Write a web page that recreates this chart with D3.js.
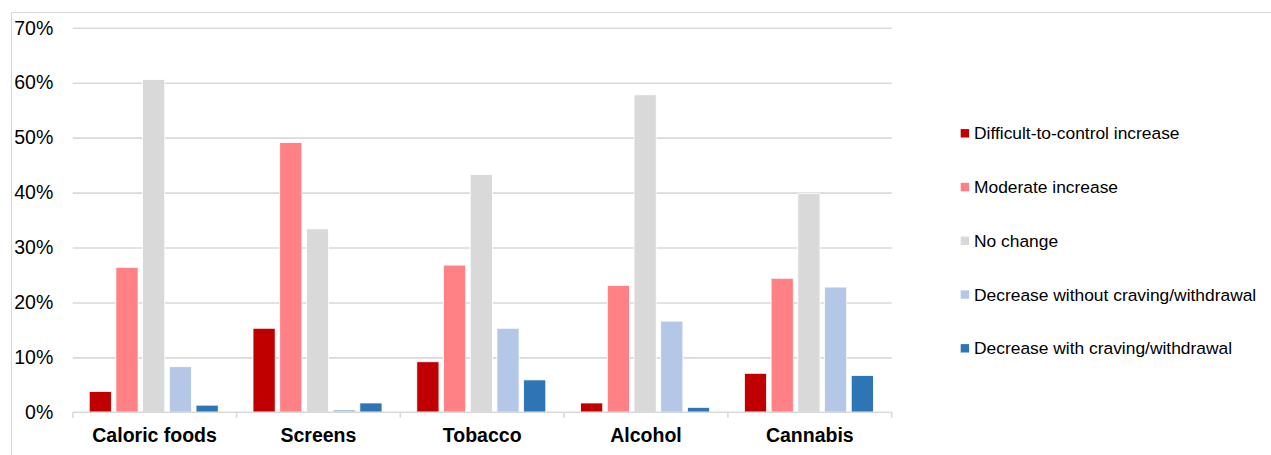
<!DOCTYPE html>
<html>
<head>
<meta charset="utf-8">
<script src="https://cdn.jsdelivr.net/npm/d3@7"></script>
<style>
  html, body { margin: 0; padding: 0; background: #fff; }
  svg { display: block; font-family: "Liberation Sans", Arial, Helvetica, sans-serif; }
</style>
</head>
<body>
<svg id="chart" width="1271" height="455"></svg>
<script>
// Categories along the x axis
const categories = ["Caloric foods", "Screens", "Tobacco", "Alcohol", "Cannabis"];

// Series names (legend order)
const seriesNames = [
  "Difficult-to-control increase",
  "Moderate increase",
  "No change",
  "Decrease without craving/withdrawal",
  "Decrease with craving/withdrawal"
];

// Percentages per series, one value per category
const difficultIncrease = [3.8, 15.3, 9.2, 1.7, 7.1];
const moderateIncrease  = [26.4, 49.1, 26.8, 23.1, 24.4];
const noChange          = [60.6, 33.4, 43.3, 57.8, 39.8];
const decreaseNoCraving = [8.3, 0.5, 15.3, 16.6, 22.8];
const decreaseCraving   = [1.3, 1.7, 5.9, 0.9, 6.7];

// Y axis ticks
const yTicks = [0, 10, 20, 30, 40, 50, 60, 70];

const seriesValues = [difficultIncrease, moderateIncrease, noChange, decreaseNoCraving, decreaseCraving];
const colors = ["#C00000", "#FF8085", "#D9D9D9", "#B4C7E7", "#2E75B6"];

const svg = d3.select("#chart");

// Frame around the chart area (runs off the right and bottom edges)
svg.append("path")
  .attr("d", "M11.5,460V12.5H1271")
  .attr("fill", "none")
  .attr("stroke", "#D9D9D9")
  .attr("stroke-width", 1.2);

const plot = { left: 72.7, right: 891.7, top: 27.8, bottom: 412.3 };

const x0 = d3.scaleBand()
  .domain(categories)
  .range([plot.left, plot.right])
  .padding(0);

const x1 = d3.scaleBand()
  .domain(d3.range(seriesNames.length))
  .range([16.5, 145.5])
  .paddingInner(0.17);

const y = d3.scaleLinear()
  .domain([0, 70])
  .range([plot.bottom, plot.top]);

// Horizontal gridlines with percentage labels
const yAxis = svg.append("g")
  .attr("transform", `translate(${plot.left},0)`)
  .call(d3.axisLeft(y)
    .tickValues(yTicks)
    .tickSizeInner(-(plot.right - plot.left))
    .tickSizeOuter(0)
    .tickPadding(19.4)
    .tickFormat(d => d + "%"));
yAxis.selectAll(".domain").remove();
yAxis.selectAll(".tick line")
  .attr("stroke", "#D9D9D9")
  .attr("stroke-width", 1.6)
  .filter(d => d === 0).remove();
yAxis.selectAll(".tick text")
  .attr("fill", "#000")
  .style("font-size", "19.5px")
  .style("font-family", "'Liberation Sans', Arial, Helvetica, sans-serif");

// Bars
const groups = svg.append("g")
  .selectAll("g")
  .data(categories)
  .join("g")
  .attr("transform", d => `translate(${x0(d)},0)`);

groups.selectAll("rect")
  .data((c, ci) => seriesValues.map((vals, si) => ({ si, v: vals[ci] })))
  .join("rect")
  .attr("x", d => x1(d.si))
  .attr("width", x1.bandwidth())
  .attr("y", d => y(d.v))
  .attr("height", d => y(0) - y(d.v))
  .attr("fill", d => colors[d.si])
  .attr("stroke", "#fff")
  .attr("stroke-width", 0.8);

// Category axis along 0%
const tickPositions = categories.map(c => x0(c)).concat([plot.right]);
const xAxis = svg.append("g");
xAxis.append("line")
  .attr("x1", plot.left).attr("x2", plot.right)
  .attr("y1", plot.bottom).attr("y2", plot.bottom)
  .attr("stroke", "#D9D9D9").attr("stroke-width", 1.6);
xAxis.selectAll("line.tk")
  .data(tickPositions)
  .join("line")
  .attr("class", "tk")
  .attr("x1", d => d).attr("x2", d => d)
  .attr("y1", plot.bottom).attr("y2", plot.bottom + 5.5)
  .attr("stroke", "#D9D9D9").attr("stroke-width", 1.6);
xAxis.selectAll("text.cat")
  .data(categories)
  .join("text")
  .attr("class", "cat")
  .attr("x", d => x0(d) + x0.bandwidth() / 2)
  .attr("y", 442)
  .attr("text-anchor", "middle")
  .attr("font-weight", "bold")
  .attr("font-size", "19.5px")
  .attr("fill", "#000")
  .text(d => d);

// Legend
const legend = svg.append("g")
  .selectAll("g")
  .data(seriesNames)
  .join("g")
  .attr("transform", (d, i) => `translate(960.7,${133.3 + i * 53.75})`);
legend.append("rect")
  .attr("x", 0).attr("y", -4.2)
  .attr("width", 8.4).attr("height", 8.4)
  .attr("fill", (d, i) => colors[i]);
legend.append("text")
  .attr("x", 13.3).attr("y", 0)
  .attr("dy", "0.35em")
  .attr("font-size", "17.4px")
  .attr("fill", "#000")
  .text(d => d);
</script>
</body>
</html>
